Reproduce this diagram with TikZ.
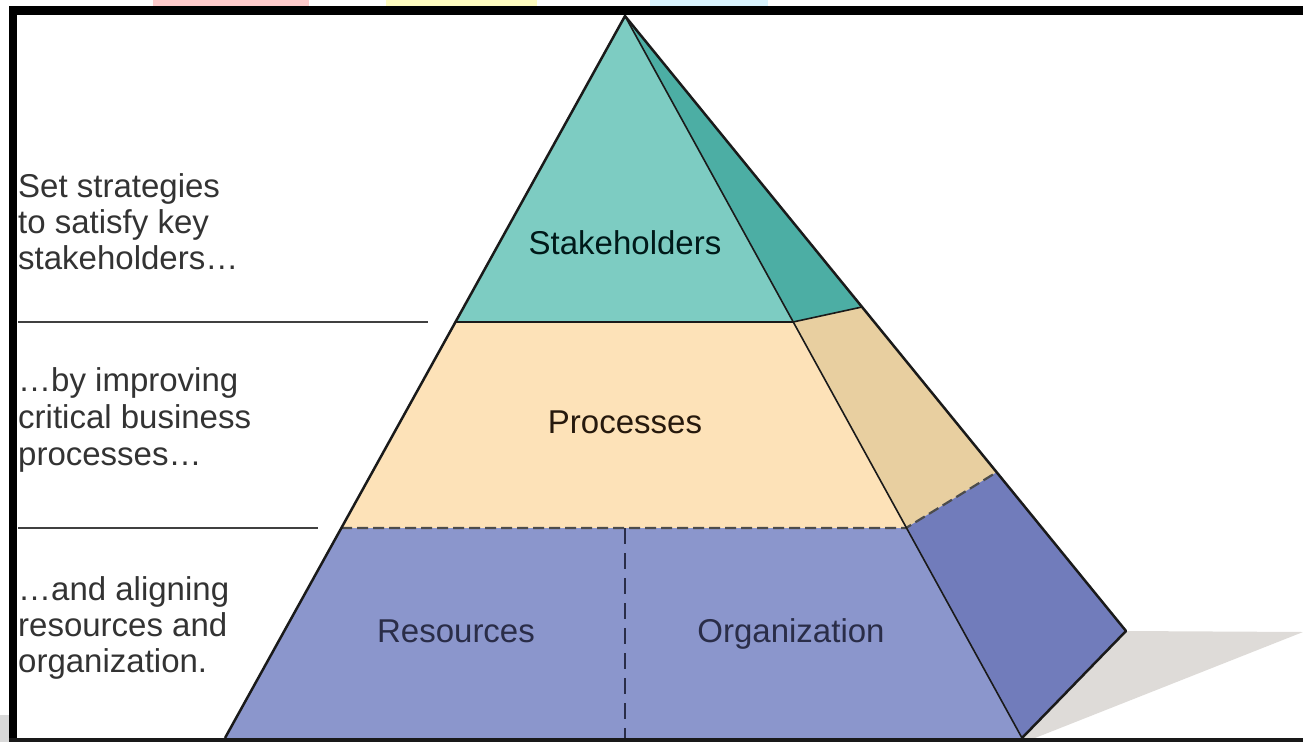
\documentclass[tikz,border=0pt]{standalone}
\usepackage{fontspec}
\setmainfont{Liberation Sans}
\definecolor{tealF}{HTML}{7DCCC2}
\definecolor{tealS}{HTML}{4CAEA4}
\definecolor{peachF}{HTML}{FDE2B8}
\definecolor{peachS}{HTML}{E8CFA0}
\definecolor{blueF}{HTML}{8B96CC}
\definecolor{blueS}{HTML}{717CBB}
\definecolor{shadowC}{HTML}{DEDBD8}
\definecolor{edgeC}{HTML}{1A1A1A}
\definecolor{leftTxt}{HTML}{333333}
\definecolor{inTxt}{HTML}{2A2D48}
\begin{document}
\begin{tikzpicture}[x=1pt,y=-1pt,
  lefttext/.style={anchor=base west, inner sep=0pt, font=\fontsize{33}{36}\selectfont, text=leftTxt},
  layerlabel/.style={anchor=base, inner sep=0pt, font=\fontsize{33}{36}\selectfont, text=inTxt},
  sepline/.style={draw=black!75, line width=1.5pt},
  edge/.style={draw=edgeC, line width=2.5pt, line join=round},
  thinedge/.style={draw=edgeC, line width=1.6pt, line join=round}]
\useasboundingbox (0,0) rectangle (1303,742);
% faint artefacts at the top and bottom left
\fill[red!20!white] (153,0) rectangle (309,6);
\fill[yellow!25!white] (386,0) rectangle (537,6);
\fill[cyan!15!white] (650,0) rectangle (768,6);
\fill[black!15] (0,715) rectangle (9,742);
% key points
\coordinate (A) at (625,16);
\coordinate (L1) at (455,322);
\coordinate (R1) at (793,322);
\coordinate (B1) at (862,307);
\coordinate (L2) at (341,528);
\coordinate (R2) at (906,528);
\coordinate (B2) at (997,472);
\coordinate (L3) at (225,738);
\coordinate (R3) at (1022,738);
\coordinate (B3) at (1126,631);
\coordinate (S1) at (1303,632);
\coordinate (S2) at (1035,738);
\coordinate (M2) at (625,528);
\coordinate (M3) at (625,738);
% shadow
\fill[shadowC] (B3) -- (S1) -- (S2) -- (R3) -- cycle;
% faces
\fill[tealF] (A) -- (L1) -- (R1) -- cycle;
\fill[tealS] (A) -- (R1) -- (B1) -- cycle;
\fill[peachF] (L1) -- (R1) -- (R2) -- (L2) -- cycle;
\fill[peachS] (R1) -- (B1) -- (B2) -- (R2) -- cycle;
\fill[blueF] (L2) -- (R2) -- (R3) -- (L3) -- cycle;
\fill[blueS] (R2) -- (B2) -- (B3) -- (R3) -- cycle;
% boundaries
\draw[thinedge] (L1) -- (R1) -- (B1);
\draw[draw=black!70, line width=2.2pt, dash pattern=on 11pt off 5pt] (L2) -- (R2) -- (B2);
\draw[draw=inTxt, line width=2pt, dash pattern=on 16pt off 9pt] (M2) -- (M3);
\draw[thinedge] (A) -- (R3);
\draw[edge] (L3) -- (A) -- (B3) -- (R3);
% left separators
\coordinate (P1) at (18,322);
\coordinate (Q1) at (428,322);
\coordinate (P2) at (18,528);
\coordinate (Q2) at (318,528);
\draw[sepline] (P1) -- (Q1);
\draw[sepline] (P2) -- (Q2);
% frame
\fill[black] (9,6) rectangle (1303,15);
\fill[black] (9,6) rectangle (17,742);
\fill[black!90] (9,738) rectangle (1303,742);
% left texts
\node[lefttext] (t1a) at (18,197) {Set strategies};
\node[lefttext] (t1b) at (18,233) {to satisfy key};
\node[lefttext] (t1c) at (18,269) {stakeholders…};
\node[lefttext] (t2a) at (18,391) {…by improving};
\node[lefttext] (t2b) at (18,428) {critical business};
\node[lefttext] (t2c) at (18,465) {processes…};
\node[lefttext] (t3a) at (18,600) {…and aligning};
\node[lefttext] (t3b) at (18,636) {resources and};
\node[lefttext] (t3c) at (18,672) {organization.};
% layer labels
\node[layerlabel, text=black!80!teal] (stk) at (625,254) {Stakeholders};
\node[layerlabel, text=black!80!brown] (prc) at (625,433) {Processes};
\node[layerlabel] (res) at (456,642) {Resources};
\node[layerlabel] (org) at (791,642) {Organization};
\end{tikzpicture}
\end{document}
